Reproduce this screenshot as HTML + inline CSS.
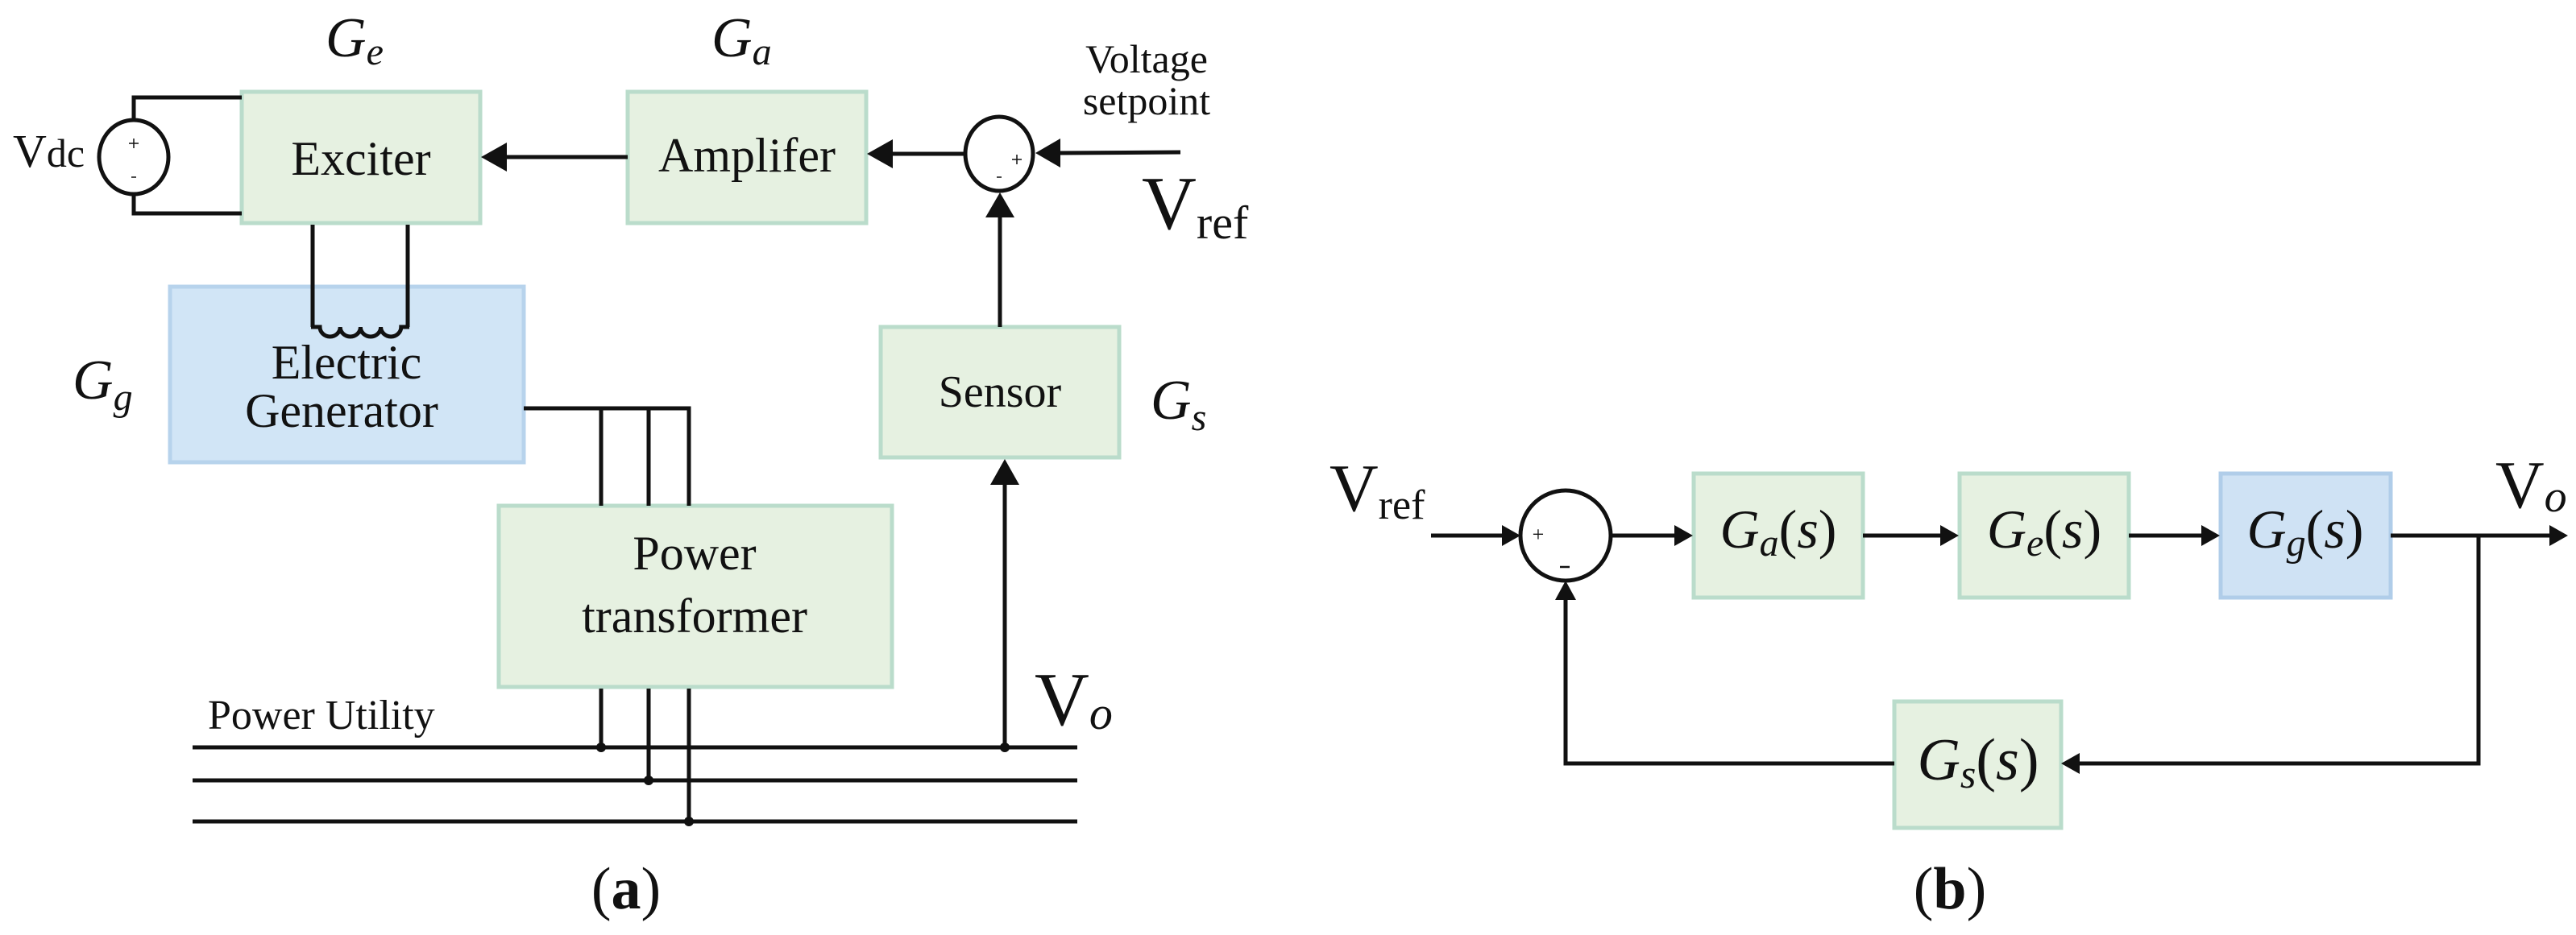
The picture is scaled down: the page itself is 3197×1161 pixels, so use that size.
<!DOCTYPE html>
<html><head><meta charset="utf-8"><style>
html,body{margin:0;padding:0;background:#fff}
svg{display:block}
text,tspan{font-family:"Liberation Serif","DejaVu Serif",serif;fill:#111}
.it{font-style:italic}
</style></head><body>
<svg width="3197" height="1161" viewBox="0 0 3197 1161" xmlns="http://www.w3.org/2000/svg" font-family="Liberation Serif, DejaVu Serif, serif">
<!-- boxes a -->
<g stroke-width="5">
<rect x="300" y="114" width="296" height="163" fill="#e6f1e1" stroke="#badccb"/>
<rect x="779" y="114" width="296" height="163" fill="#e6f1e1" stroke="#badccb"/>
<rect x="1093" y="406" width="296" height="162" fill="#e6f1e1" stroke="#badccb"/>
<rect x="211" y="356" width="439" height="218" fill="#d1e5f6" stroke="#b7d3ec"/>
<rect x="619" y="628" width="488" height="225" fill="#e6f1e1" stroke="#badccb"/>
</g>
<g stroke="#111" stroke-width="5" fill="none">
<polyline points="300,121 166,121 166,148"/>
<polyline points="300,265 166,265 166,240"/>
<line x1="388" y1="279" x2="388" y2="406"/>
<line x1="506" y1="279" x2="506" y2="406"/>
<path d="M386,406 H397 a12.6,12 0 0 0 25.2,0 a12.6,12 0 0 0 25.2,0 a12.6,12 0 0 0 25.2,0 a12.6,12 0 0 0 25.2,0 H508"/>
<ellipse cx="166" cy="195" rx="43" ry="46"/>
<ellipse cx="1240" cy="191" rx="42" ry="46"/>
<polyline points="650,507 855,507 855,628"/>
<line x1="746" y1="507" x2="746" y2="628"/>
<line x1="805" y1="507" x2="805" y2="628"/>
<line x1="746" y1="855" x2="746" y2="928"/>
<line x1="805" y1="855" x2="805" y2="969"/>
<line x1="855" y1="855" x2="855" y2="1020"/>
<line x1="239" y1="928" x2="1337" y2="928"/>
<line x1="239" y1="969" x2="1337" y2="969"/>
<line x1="239" y1="1020" x2="1337" y2="1020"/>
<line x1="1247" y1="928" x2="1247" y2="600"/>
<line x1="1241" y1="406" x2="1241" y2="268"/>
<line x1="779" y1="195" x2="625" y2="195"/>
<line x1="1198" y1="191" x2="1105" y2="191"/>
<line x1="1465" y1="189" x2="1314" y2="190"/>
</g>
<g fill="#111">
<circle cx="746" cy="928" r="6"/><circle cx="805" cy="969" r="6"/><circle cx="855" cy="1020" r="6"/><circle cx="1247" cy="928" r="6"/>
<polygon points="597,195 629,177 629,213"/>
<polygon points="1076,191 1108,173 1108,209"/>
<polygon points="1285,190 1316,172 1316,208"/>
<polygon points="1241,239 1223,270 1259,270"/>
<polygon points="1247,570 1229,602 1265,602"/>
</g>
<g stroke="#111" stroke-width="1.5">
<line x1="166" y1="172" x2="166" y2="184"/><line x1="160" y1="178" x2="172" y2="178"/>
<line x1="163" y1="220" x2="169" y2="220"/>
<line x1="1262" y1="192" x2="1262" y2="204"/><line x1="1256" y1="198" x2="1268" y2="198"/>
<line x1="1237" y1="220" x2="1243" y2="220"/>
</g>
<!-- texts a -->
<text x="448" y="217" font-size="60" text-anchor="middle">Exciter</text>
<text x="927" y="213" font-size="60" text-anchor="middle">Amplifer</text>
<text x="1241" y="505" font-size="56" text-anchor="middle">Sensor</text>
<text x="430" y="470" font-size="60" text-anchor="middle">Electric</text>
<text x="424" y="530" font-size="60" text-anchor="middle">Generator</text>
<text x="862" y="707" font-size="60" text-anchor="middle">Power</text>
<text x="862" y="785" font-size="60" text-anchor="middle">transformer</text>
<text x="258" y="905" font-size="52">Power Utility</text>
<text x="1423" y="90" font-size="50" text-anchor="middle">Voltage</text>
<text x="1423" y="142" font-size="50" text-anchor="middle">setpoint</text>
<text x="16" y="207" font-size="58">V<tspan font-size="50">dc</tspan></text>
<text x="404" y="70" font-size="70" class="it">G<tspan font-size="48" dy="10">e</tspan></text>
<text x="883" y="70" font-size="70" class="it">G<tspan font-size="48" dy="10">a</tspan></text>
<text x="90" y="495" font-size="70" class="it">G<tspan font-size="48" dy="14">g</tspan></text>
<text x="1428" y="520" font-size="70" class="it">G<tspan font-size="48" dy="14">s</tspan></text>
<text x="1417" y="284" font-size="94">V<tspan font-size="58" dy="12">ref</tspan></text>
<text x="1284" y="900" font-size="94">V<tspan font-size="58" dy="5" class="it">o</tspan></text>
<text x="777" y="1128" font-size="74" text-anchor="middle">(<tspan font-weight="bold">a</tspan>)</text>

<!-- Panel b -->
<g stroke-width="5">
<rect x="2102" y="588" width="210" height="154" fill="#e6f1e1" stroke="#badccb"/>
<rect x="2432" y="588" width="210" height="154" fill="#e6f1e1" stroke="#badccb"/>
<rect x="2756" y="588" width="211" height="154" fill="#cfe2f4" stroke="#b0cde9"/>
<rect x="2351" y="871" width="207" height="157" fill="#e6f1e1" stroke="#badccb"/>
</g>
<g stroke="#111" stroke-width="5" fill="none">
<circle cx="1943" cy="665" r="56"/>
<line x1="1776" y1="665" x2="1870" y2="665"/>
<line x1="1999" y1="665" x2="2084" y2="665"/>
<line x1="2312" y1="665" x2="2414" y2="665"/>
<line x1="2642" y1="665" x2="2738" y2="665"/>
<line x1="2967" y1="665" x2="3168" y2="665"/>
<polyline points="3076,665 3076,948 2578,948"/>
<polyline points="2351,948 1943,948 1943,742"/>
</g>
<g fill="#111">
<polygon points="1887,665 1864,652 1864,678"/>
<polygon points="2101,665 2078,652 2078,678"/>
<polygon points="2431,665 2408,652 2408,678"/>
<polygon points="2755,665 2732,652 2732,678"/>
<polygon points="3187,665 3164,652 3164,678"/>
<polygon points="2558,948 2581,935 2581,961"/>
<polygon points="1943,721 1930,745 1956,745"/>
</g>
<text x="1909" y="672" font-size="26" text-anchor="middle">+</text>
<line x1="1936" y1="704" x2="1948" y2="704" stroke="#111" stroke-width="2.5"/>
<text x="2207" y="680" font-size="68" text-anchor="middle"><tspan class="it">G</tspan><tspan class="it" font-size="48" dy="10">a</tspan><tspan dy="-10">(</tspan><tspan class="it">s</tspan>)</text>
<text x="2537" y="680" font-size="68" text-anchor="middle"><tspan class="it">G</tspan><tspan class="it" font-size="48" dy="10">e</tspan><tspan dy="-10">(</tspan><tspan class="it">s</tspan>)</text>
<text x="2861" y="680" font-size="68" text-anchor="middle"><tspan class="it">G</tspan><tspan class="it" font-size="48" dy="10">g</tspan><tspan dy="-10">(</tspan><tspan class="it">s</tspan>)</text>
<text x="2455" y="968" font-size="74" text-anchor="middle"><tspan class="it">G</tspan><tspan class="it" font-size="50" dy="10">s</tspan><tspan dy="-10">(</tspan><tspan class="it">s</tspan>)</text>
<text x="1650" y="634" font-size="84">V<tspan font-size="52" dy="10">ref</tspan></text>
<text x="3097" y="630" font-size="84">V<tspan font-size="56" dy="5" class="it">o</tspan></text>
<text x="2420" y="1128" font-size="74" text-anchor="middle">(<tspan font-weight="bold">b</tspan>)</text>
</svg>
</body></html>
